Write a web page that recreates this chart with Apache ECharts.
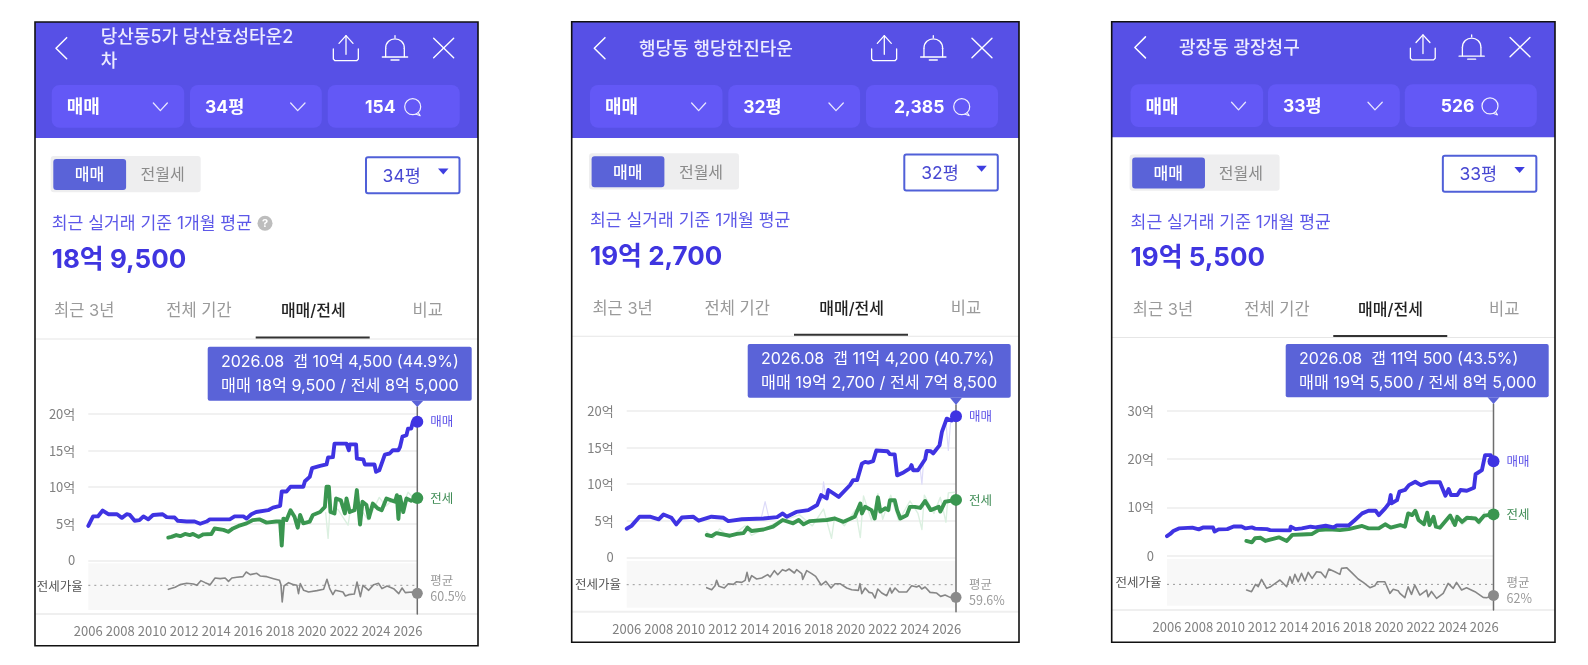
<!DOCTYPE html>
<html lang="ko">
<head>
<meta charset="utf-8">
<style>html,body{margin:0;padding:0;background:#fff}#c{width:1588px;height:665px}</style>
<script src="https://cdn.jsdelivr.net/npm/echarts@6/dist/echarts.min.js"></script>
</head>
<body>
<div id="c"></div>
<script>
// ---------- data: [year, 억] ----------
const tickYears = [2006,2008,2010,2012,2014,2016,2018,2020,2022,2024,2026];
const endYear = 2026.58;

const saleDangsan = [[2006,4.7],[2006.3,6],[2006.6,6],[2006.9,6.8],[2007.25,6.3],[2007.8,6.3],[2008.1,5.8],[2008.4,6.3],[2008.6,6.2],[2008.9,5.4],[2009.2,5.5],[2009.45,6],[2009.75,5.6],[2010.05,6.2],[2010.65,6.3],[2010.9,5.9],[2011.4,5.85],[2011.6,5.4],[2012.15,5.3],[2012.65,5.3],[2013,5],[2013.4,5.3],[2013.6,5.6],[2014.85,5.6],[2015.15,6],[2015.7,6],[2015.9,5.7],[2016.2,6.3],[2016.5,6.6],[2016.6,6.85],[2017.25,6.85],[2017.55,7.2],[2018,7.45],[2018.1,9.4],[2018.4,9.4],[2018.65,10.05],[2019.45,10.05],[2019.55,10.8],[2019.85,11.4],[2020,12.6],[2020.5,12.9],[2020.9,13.1],[2021,14.05],[2021.3,14.1],[2021.4,15.95],[2022.15,15.95],[2022.3,15.05],[2022.35,15.85],[2022.75,15.85],[2022.8,13.9],[2023.2,13.8],[2023.3,13.1],[2023.9,13.1],[2024,12.1],[2024.2,12.3],[2024.55,14.45],[2024.85,14.6],[2025.05,15.05],[2025.4,15.05],[2025.5,15.5],[2025.65,16.9],[2025.9,17.1],[2026,18],[2026.2,18],[2026.3,18.9],[2026.58,18.95]];
const rentDangsan = [[2011,3.1],[2011.2,3.2],[2011.5,3.45],[2011.75,3.3],[2012.05,3.6],[2012.35,3.45],[2012.55,3.6],[2012.9,3.2],[2013.2,3.55],[2013.7,3.6],[2013.9,4.35],[2014.45,4.15],[2014.75,3.9],[2015.05,4.35],[2015.4,4.7],[2015.9,5.05],[2016.3,5.5],[2016.7,5.6],[2017.15,5.15],[2017.75,5.3],[2018,5.3],[2018.1,2],[2018.2,5.7],[2018.4,5.5],[2018.65,6.85],[2018.9,5.95],[2019.1,4.45],[2019.25,6.2],[2019.45,5.05],[2019.85,5.3],[2020.05,6.2],[2020.5,6.6],[2020.8,7.3],[2020.9,10.05],[2021.05,10.05],[2021.15,6.6],[2021.4,6.4],[2021.5,8.45],[2021.8,8.2],[2022.05,6.4],[2022.15,8.45],[2022.35,6.6],[2022.65,6.85],[2022.8,9.6],[2022.85,9.35],[2023,4.9],[2023.15,8],[2023.4,7.55],[2023.55,5.8],[2023.8,7.75],[2024.1,7.1],[2024.35,6.85],[2024.65,8.45],[2024.95,8.2],[2025.2,8],[2025.3,8.9],[2025.4,5.65],[2025.5,8.7],[2025.7,6.6],[2025.9,8.45],[2026.2,8.15],[2026.58,8.5]];
const ratioDangsan = [[2011.01,52.7],[2011.43,56.6],[2011.74,61.8],[2012.16,64.4],[2012.58,63.1],[2012.79,60.5],[2013.04,69.6],[2013.31,65.7],[2013.62,61.8],[2013.93,74.8],[2014.25,73.5],[2014.56,74.8],[2014.77,68.3],[2014.98,74.8],[2015.29,76.1],[2015.67,77.4],[2015.88,86.5],[2016.13,81.3],[2016.54,83.9],[2016.75,78.7],[2017.17,77.4],[2017.59,73.5],[2017.96,70.3],[2018.05,61.8],[2018.13,28],[2018.24,59.2],[2018.53,65.7],[2018.84,61.8],[2019.05,60.5],[2019.15,44.3],[2019.26,63.8],[2019.47,50.8],[2019.78,47.5],[2020.3,50.1],[2020.72,52.7],[2020.93,72.2],[2021.1,54],[2021.3,42.3],[2021.45,50.8],[2021.93,47.5],[2022.08,39.7],[2022.29,42.3],[2022.64,43.6],[2022.81,67],[2023.02,38.4],[2023.18,60.5],[2023.54,50.8],[2023.85,61.8],[2024.16,64.4],[2024.37,54],[2024.69,59.2],[2025.1,54],[2025.42,44.3],[2025.63,55.3],[2025.83,46.2],[2026.25,47.5],[2026.58,44.9]];
const rentFaintDangsan = [[2020.85,6.5],[2021,3],[2021.1,6.5],[2021.6,7],[2022.25,4.8],[2022.4,7],[null,null],[2023.2,6.5],[2023.5,5.5],[2024.2,8.6],[2024.6,7.4],[2025.2,8.6],[2025.6,7],[2026,9.3],[2026.4,8.4]];
const saleFaintDangsan = [];

const saleHaengdang = [[2006,3.9],[2006.3,4.3],[2006.8,5.55],[2007.45,5.55],[2008,5.2],[2008.3,5.85],[2008.8,5.4],[2009.1,4.5],[2009.45,5.45],[2010.15,5.55],[2010.5,5],[2011.3,5.55],[2012.05,5.4],[2012.35,4.95],[2013.2,5.2],[2014.55,5.3],[2015.4,5.5],[2015.75,6],[2016,5.55],[2016.6,6.2],[2017.35,6.45],[2017.9,7.15],[2018.15,8.5],[2018.5,8.05],[2018.6,9.2],[2019.25,8.25],[2019.95,9.85],[2020.15,10.55],[2020.4,10.55],[2020.7,12.8],[2020.9,13.05],[2021.1,12.95],[2021.4,13.15],[2021.6,14.6],[2022.3,14.5],[2022.45,14.1],[2022.75,14.05],[2022.9,11.2],[2023.3,11.6],[2023.7,12.15],[2023.8,12.6],[2023.9,11.9],[2024.2,11.9],[2024.65,13.4],[2024.75,14.55],[2025,14.5],[2025.15,14.2],[2025.55,15.3],[2025.7,17.15],[2026,18.95],[2026.3,18.7],[2026.58,19.27]];
const rentHaengdang = [[2011,3.05],[2011.3,2.9],[2011.6,3.3],[2012.45,2.95],[2012.9,3.2],[2013.3,3.3],[2013.55,4.05],[2013.8,3.6],[2014.55,3.8],[2015.15,4.2],[2015.75,5.1],[2016.4,4.65],[2016.75,5.1],[2017.05,4.5],[2017.45,4.95],[2018.5,5.1],[2019,5.3],[2019.55,4.85],[2020.25,5.55],[2020.6,7.35],[2020.7,6],[2020.9,6.9],[2021.3,6.45],[2021.5,5.3],[2021.7,8.2],[2021.85,6.25],[2022.15,6.7],[2022.35,6.45],[2022.45,7.8],[2022.75,7.8],[2022.9,6.45],[2023.1,5.3],[2023.5,5.75],[2023.7,6.9],[2024,6.9],[2024.35,6.75],[2024.65,7.7],[2025,6.45],[2025.5,6.9],[2025.6,6.25],[2025.9,7.6],[2026.58,7.85]];
const ratioHaengdang = [[2011,55.1],[2011.31,52.1],[2011.52,58.1],[2011.62,66.1],[2011.77,57.1],[2012.1,54.6],[2012.35,61.1],[2012.67,60.1],[2012.87,64.1],[2013.19,63.1],[2013.4,66.1],[2013.52,78.1],[2013.65,64.6],[2013.81,73.1],[2014.12,68.1],[2014.44,69.6],[2014.81,74.6],[2014.96,71.1],[2015.23,80.6],[2015.44,74.6],[2015.73,82.1],[2015.94,80.1],[2016.15,83.1],[2016.48,77.1],[2016.62,82.1],[2016.94,76.1],[2017,67.6],[2017.25,80.6],[2017.56,76.1],[2017.81,72.1],[2018.15,59.1],[2018.44,64.6],[2018.77,54.6],[2019.02,61.1],[2019.33,61.1],[2019.75,54.6],[2020.06,52.1],[2020.48,51.1],[2020.58,61.1],[2020.69,46.1],[2020.9,54.6],[2021.15,48.1],[2021.35,47.1],[2021.52,39.6],[2021.69,53.1],[2021.94,47.1],[2022.25,43.1],[2022.46,54.6],[2022.56,47.1],[2022.77,54.6],[2023.02,48.6],[2023.5,48.6],[2023.81,58.1],[2024.12,56.1],[2024.27,58.1],[2024.44,53.1],[2024.65,56.1],[2024.96,48.1],[2025.37,47.1],[2025.62,42.1],[2025.9,44.1],[2026.21,40.6],[2026.58,40.7]];
const rentFaintHaengdang = [[2011,3.5],[2011.4,2.6],[2011.8,3.9],[2012.4,2.7],[2013.4,4.3],[2013.8,3],[2015.2,4.6],[2016.8,5.8],[2017.6,4.3],[2018.3,6.6],[2018.8,2.6],[2019,5.6],[2019.6,4.3],[2020.3,6.5],[2020.6,2.7],[2020.8,8.4],[2021.3,5],[2021.7,8.7],[2022,5.2],[2022.5,8.5],[2023,5],[2023.7,7.7],[2024.2,6],[2024.45,3.8],[2024.6,8.5],[2025.2,6],[2025.6,8.2],[2025.95,4.8],[2026.1,8.8],[2026.5,8.9]];
const saleFaintHaengdang = [[2014.4,5.3],[2014.65,7.6],[2014.9,5.3],[null,null],[2018.2,7.8],[2018.3,10.3],[2018.45,8.2],[null,null],[2024.35,11.9],[2024.45,10],[2024.55,13],[null,null],[2025.95,18.5],[2026.1,14.6],[2026.25,18.7]];

const saleGwangjang = [[2006,4.05],[2006.2,4.5],[2006.4,5.1],[2006.75,5.65],[2007.6,5.8],[2008,5.45],[2008.3,5.85],[2008.9,5.85],[2009,5],[2009.25,5.45],[2009.8,5.5],[2010.2,6.05],[2010.7,6.05],[2010.95,5.65],[2011.35,5.85],[2011.55,5.6],[2012.3,5.5],[2012.5,5.3],[2013.75,5.25],[2013.8,6],[2014.1,5.5],[2014.5,5.65],[2015.05,6],[2015.35,5.85],[2016,6.2],[2016.5,5.85],[2016.7,6.25],[2017.45,6.25],[2017.85,7.4],[2018.3,8.75],[2018.7,9.3],[2019.15,9.3],[2019.35,8.4],[2019.75,9.8],[2020,10.85],[2020.1,12.55],[2020.15,10.85],[2020.5,11.5],[2020.65,13.25],[2021,13.6],[2021.25,14.6],[2021.65,15.3],[2022,14.6],[2022.5,15.2],[2023.2,15.2],[2023.55,12.4],[2023.75,13.8],[2023.9,12.55],[2024.3,12.55],[2024.5,13.6],[2024.9,13.45],[2025.35,14.05],[2025.45,16.85],[2025.85,17.7],[2026.05,20.8],[2026.4,20.8],[2026.58,19.55]];
const rentGwangjang = [[2011,3.05],[2011.35,2.75],[2011.55,3.6],[2011.9,3.7],[2012.2,3.05],[2013.05,3.8],[2013.55,3.05],[2013.9,4.3],[2014.5,4.4],[2015.15,4.5],[2015.55,5.3],[2016.2,5.45],[2016.9,5.3],[2017.45,5.5],[2018.3,6.15],[2018.7,5.65],[2019.35,5.65],[2019.75,6.5],[2020.1,5.8],[2020.7,6.35],[2021,6],[2021.2,8.75],[2021.45,8.4],[2021.65,9.3],[2021.85,7.4],[2022.2,6.5],[2022.4,8.9],[2022.55,6.35],[2022.8,8.05],[2022.95,6],[2023.2,5.8],[2023.85,8.3],[2024.15,6.35],[2024.3,8.05],[2024.6,7],[2024.9,7.85],[2025.45,7.7],[2025.65,7],[2026,8.3],[2026.58,8.55]];
const ratioGwangjang = [[2011.02,52.5],[2011.33,49.7],[2011.58,62],[2011.75,58.1],[2011.96,70.4],[2012.28,55.3],[2012.49,57.5],[2012.91,65.4],[2013.12,69.3],[2013.54,58.1],[2013.75,74.9],[2013.89,63.7],[2014.06,78.8],[2014.27,66.5],[2014.48,80.5],[2014.69,67.6],[2014.9,82.2],[2015.15,72.1],[2015.43,83.3],[2015.7,82.2],[2015.99,73.2],[2016.2,87.8],[2016.58,83.3],[2016.9,78.8],[2017,88.9],[2017.32,90],[2017.63,82.2],[2018.05,71],[2018.37,65.4],[2018.79,56.4],[2019.1,59.8],[2019.27,66.5],[2019.73,66.5],[2020.05,46.9],[2020.26,53.7],[2020.57,51.4],[2020.68,46.9],[2020.99,39.6],[2021.2,58.1],[2021.41,45.2],[2021.62,60.9],[2021.94,44.1],[2022.36,52.5],[2022.46,41.3],[2022.67,50.1],[2022.99,38.5],[2023.41,46.9],[2023.72,63.7],[2024.04,55.3],[2024.25,65.4],[2024.57,52.5],[2024.88,56.4],[2025.41,49.7],[2025.93,40.2],[2026.14,39.6],[2026.58,43.5]];
const rentFaintGwangjang = [[2023.9,6.6],[2024.2,8.4],[2024.6,6.4],[2025.2,8.2],[2025.7,6.4],[2026,9]];
const saleFaintGwangjang = [];

// ---------- text of the three panels ----------
const titles = [["당산동5가 당산효성타운2","차"],["행당동 행당한진타운"],["광장동 광장청구"]];
const pyeong = ["34평","32평","33평"];
const counts = ["154","2,385","526"];
const bigPrices = ["18억 9,500","19억 2,700","19억 5,500"];
const tipLine1 = ["2026.08  갭 10억 4,500 (44.9%)","2026.08  갭 11억 4,200 (40.7%)","2026.08  갭 11억 500 (43.5%)"];
const tipLine2 = ["매매 18억 9,500 / 전세 8억 5,000","매매 19억 2,700 / 전세 7억 8,500","매매 19억 5,500 / 전세 8억 5,000"];
const avgLabels = ["60.5%","59.6%","62%"];
const avgRatios = [60.5,59.6,62];
const yMaxes = [20,20,30];
const yIntervals = [5,5,10];
const ratioRanges = [[12.4,103.4],[25.1,95.1],[26.2,104.6]];
const seriesData = [
  {sale:saleDangsan, rent:rentDangsan, ratio:ratioDangsan, rentF:rentFaintDangsan, saleF:saleFaintDangsan},
  {sale:saleHaengdang, rent:rentHaengdang, ratio:ratioHaengdang, rentF:rentFaintHaengdang, saleF:saleFaintHaengdang},
  {sale:saleGwangjang, rent:rentGwangjang, ratio:ratioGwangjang, rentF:rentFaintGwangjang, saleF:saleFaintGwangjang}
];

// ---------- layout ----------
const layouts = [
  {l:35,r:478,t:22,b:645.7,dx:0,k:0,dy:0,dyB:0,titleX:100.7,countX:365,bubbleX:412.7,
   gl:88.3,gr:417.3,gt:414,g0:560.3,st:563.3,sb:610,line:614,tipL:207.7,tipR:471.7,tipT:346.7,tipB:400.7,tip:407},
  {l:571.7,r:1019,t:21.7,b:642.3,dx:538.3,k:0,dy:0,dyB:-2.8,titleX:639,countX:894,bubbleX:961.7,
   gl:626.7,gr:956,gt:411,g0:557.3,st:561,sb:607.7,line:611.7,tipL:747.7,tipR:1010.7,tipT:344,tipB:397.7,tip:405},
  {l:1111.7,r:1555,t:21.7,b:642.3,dx:1079,k:-0.0065,dy:-0.8,dyB:-1.5,titleX:1179,countX:1440.7,bubbleX:1490,
   gl:1167,gr:1493.5,gt:410.7,g0:555.7,st:559,sb:605.7,line:610,tipL:1285.7,tipR:1548.7,tipT:344,tipB:397.3,tip:404}
];

const FONT = 'Inter,"Noto Sans CJK KR","Noto Sans",sans-serif';
const FONT_AX = '"Noto Sans CJK KR","Noto Sans",sans-serif';
const HEADER='#5750e6', DROP='#6358f6', SALE='#3f33e2', RENT='#3a9650', GREY='#8a8a8a', ACCENT='#5a63d8';

const graphic=[], grid=[], xAxis=[], yAxis=[], series=[];

function txt(x,y,text,size,fill,opt){
  opt=opt||{};
  const shift = opt.font ? 0 : 2;   // Inter's metrics sit higher than the CJK face's
  graphic.push({type:'text',z:opt.z||5,style:{x,y:y+shift,text,fill,font:(opt.weight||'400')+' '+size+'px '+(opt.font||FONT),
    textAlign:opt.align||'left',textVerticalAlign:'middle'}});
}
function rect(x,y,w,h,fill,opt){
  opt=opt||{};
  graphic.push({type:'rect',z:opt.z==null?1:opt.z,shape:{x,y,width:w,height:h,r:opt.r||0},
    style:{fill,stroke:opt.stroke||null,lineWidth:opt.lw||0}});
}
function stroke(points,color,lw){
  graphic.push({type:'polyline',z:3,shape:{points},style:{fill:null,stroke:color,lineWidth:lw,lineCap:'round',lineJoin:'round'}});
}
function poly(points,fill,z){
  graphic.push({type:'polygon',z:z||3,shape:{points},style:{fill}});
}

layouts.forEach((L,i)=>{
  const X=v=>v+L.dx+(v-35)*L.k, Y=v=>v+L.dy, B=v=>v+L.dyB;
  const Z=(x,y)=>[X(30+x/3),15+y/3+L.dy];
  // frame
  rect(L.l,L.t,L.r-L.l,L.b-L.t,'#fff',{z:-10});
  rect(L.l,L.t,L.r-L.l,138+L.dy-L.t,HEADER,{z:-9});
  rect(L.l,L.t,L.r-L.l,L.b-L.t,'none',{z:20,stroke:'#111',lw:1.6});
  // header icons
  stroke([Z(110,68),Z(78,100),Z(110,131)],'#fff',1.5);
  stroke([Z(910,102),Z(910,132),Z(915,137),Z(980,137),Z(985,132),Z(985,102)],'#fff',1.3);
  stroke([Z(948,118),Z(948,62)],'#fff',1.3);
  stroke([Z(927,85),Z(948,62),Z(969,85)],'#fff',1.3);
  const a=Z(1067,125),b=Z(1067,100),c1=Z(1067,62),c2=Z(1123,62),d=Z(1123,100),e=Z(1123,125);
  stroke([a,b],'#fff',1.3); stroke([d,e],'#fff',1.3);
  graphic.push({type:'bezierCurve',z:3,shape:{x1:b[0],y1:b[1],x2:d[0],y2:d[1],cpx1:c1[0],cpy1:c1[1],cpx2:c2[0],cpy2:c2[1]},style:{fill:null,stroke:'#fff',lineWidth:1.3}});
  stroke([Z(1057,126),Z(1133,126)],'#fff',1.3);
  stroke([Z(1083,135),Z(1107,135)],'#fff',1.3);
  stroke([Z(1095,62),Z(1095,68)],'#fff',1.3);
  stroke([Z(1211,70),Z(1271,128)],'#fff',1.4);
  stroke([Z(1271,70),Z(1211,128)],'#fff',1.4);
  // title
  titles[i].forEach((t,k)=>{
    const y = titles[i].length>1 ? 35.5+k*24 : 47.2+L.dy;
    txt(L.titleX,y,t,18,'#ecebff',{weight:'500'});
  });
  // drop-downs
  rect(X(51.7),Y(85),132.5,42.8,DROP,{r:8});
  rect(X(190),Y(85),131.8,42.8,DROP,{r:8});
  rect(X(327.7),Y(85),132,42.8,DROP,{r:8});
  txt(X(66.7),Y(106),'매매',18,'#fff',{weight:'700'});
  txt(X(205),Y(106),pyeong[i],17.5,'#fff',{weight:'700'});
  txt(L.countX,Y(106),counts[i],17.5,'#fff',{weight:'700'});
  stroke([Z(370,264),Z(391,287),Z(412,264)],'#e8e6ff',1.3);
  stroke([Z(782,264),Z(803,287),Z(825,264)],'#e8e6ff',1.3);
  const bx=L.bubbleX, by=Y(106.7);
  graphic.push({type:'circle',z:3,shape:{cx:bx,cy:by,r:8},style:{fill:null,stroke:'#f2f1ff',lineWidth:1.2}});
  stroke([[bx+5.5,by+5.8],[bx+7.5,by+9],[bx+3,by+7.4]],'#f2f1ff',1.1);
  // toggle
  rect(X(50.7),B(156),150,36.3,'#eeeeef',{r:3});
  rect(X(53.3),B(159),72.8,31,ACCENT,{r:3});
  txt(X(89.5),B(173.5),'매매',16,'#fff',{align:'center',weight:'500'});
  txt(X(162.7),B(173.5),'전월세',16,'#8b8b8b',{align:'center'});
  // pyeong select
  rect(X(366),B(157.3),93.5,36,'#fff',{stroke:'#5060d8',lw:2,r:2});
  txt(X(401.7),B(174.5),pyeong[i],17.5,'#4848d2',{align:'center'});
  poly([[X(438),B(168.5)],[X(448.5),B(168.5)],[X(443.3),B(174.5)]],'#3e3ee0',5);
  // price
  txt(X(51.7),B(222),'최근 실거래 기준 1개월 평균',17.2,'#5d58e8');
  if(i===0){
    graphic.push({type:'circle',z:3,shape:{cx:265,cy:223.3,r:7.5},style:{fill:'#bdbdbd'}});
    txt(265,221.3,'?',11,'#fff',{align:'center',weight:'700'});
  }
  txt(X(51.7),B(257.7),bigPrices[i],26,'#3f35e0',{weight:'700'});
  // tabs
  txt(X(84.3),B(309.5),'최근 3년',16.5,'#9a9a9a',{align:'center'});
  txt(X(199),B(309.5),'전체 기간',16.5,'#9a9a9a',{align:'center'});
  txt(X(313.3),B(309.5),'매매/전세',16,'#222',{align:'center',weight:'500'});
  txt(X(427.7),B(309.5),'비교',16.5,'#9a9a9a',{align:'center'});
  rect(L.l,B(338.5),L.r-L.l,1,'#e6e6e6');
  rect(X(255.7),B(336.5),114,2,'#333');
  // bottom line under the chart
  rect(L.l,L.line-1,L.r-L.l,2,'#efefef');
  // side label
  txt(L.gl-5.6,L.st+23,'전세가율',12.5,'#555',{align:'right',font:FONT_AX});
  // tooltip
  rect(L.tipL,L.tipT,L.tipR-L.tipL,L.tipB-L.tipT,ACCENT,{r:2,z:10});
  poly([[L.gr-6,L.tipB],[L.gr+6,L.tipB],[L.gr,L.tip]],ACCENT,10);
  txt(L.tipL+13.3,L.tipT+13,tipLine1[i],16,'#fff',{z:11});
  txt(L.tipL+13.3,L.tipT+37,tipLine2[i],16.2,'#fff',{z:11});

  // ---------- chart grids (main, ratio strip, guide) ----------
  const g0=grid.length;
  const W=1588,H=665;
  grid.push({left:L.gl,right:W-L.gr,top:L.gt,bottom:H-L.g0});
  grid.push({left:L.gl,right:W-L.gr,top:L.st,bottom:H-L.sb,show:true,backgroundColor:'#f8f8f8',borderWidth:0});
  grid.push({left:L.gl,right:W-L.gr,top:L.tip,bottom:H-L.line});
  const xBase={type:'value',min:tickYears[0],max:endYear,interval:2,splitLine:{show:false},axisLine:{show:false},axisTick:{show:false}};
  xAxis.push({...xBase,gridIndex:g0,axisLabel:{show:false}});
  xAxis.push({...xBase,gridIndex:g0+1,axisLabel:{show:true,showMaxLabel:false,margin:15,color:'#808080',fontSize:13,fontFamily:FONT_AX,
     formatter:v=>tickYears.includes(v)?String(v):''}});
  xAxis.push({...xBase,gridIndex:g0+2,axisLabel:{show:false}});
  yAxis.push({type:'value',gridIndex:g0,min:0,max:yMaxes[i],interval:yIntervals[i],axisLine:{show:false},axisTick:{show:false},
    splitLine:{show:true,lineStyle:{color:'#ececec',width:1.5}},
    axisLabel:{margin:13,color:'#808080',fontSize:13,fontFamily:FONT_AX,formatter:v=>v===0?'0':v+'억'}});
  yAxis.push({type:'value',gridIndex:g0+1,min:ratioRanges[i][0],max:ratioRanges[i][1],show:false,splitLine:{show:false}});
  yAxis.push({type:'value',gridIndex:g0+2,min:0,max:1,show:false,splitLine:{show:false}});

  const D=seriesData[i];
  const line=(name,data,ax,color,width,z,extra)=>series.push(Object.assign({name,type:'line',xAxisIndex:g0+ax,yAxisIndex:g0+ax,
    data,showSymbol:false,symbol:'none',silent:true,z,connectNulls:false,clip:false,animation:false,
    lineStyle:{color,width,cap:'round',join:'round'}},extra||{}));
  const dot=(name,point,ax,color,size,label,z)=>series.push({name,type:'scatter',xAxisIndex:g0+ax,yAxisIndex:g0+ax,
    data:[point],symbolSize:size,silent:true,z,animation:false,clip:false,itemStyle:{color,opacity:1},label});

  line('guide',[[endYear,0],[endYear,1]],2,'#6e6e6e',1.5,1);
  if(D.saleF.length) line('매매 개별',D.saleF,0,'#dddbf9',1.2,2);
  if(D.rentF.length) line('전세 개별',D.rentF,0,'#dcf0e1',1.4,2);
  line('평균',[[tickYears[0],avgRatios[i]],[endYear,avgRatios[i]]],1,'#9a9a9a',1,2,{lineStyle:{color:'#9a9a9a',width:1,type:[2,4]}});
  line('매매',D.sale,0,SALE,3.9,4);
  line('전세',D.rent,0,RENT,3.9,3);
  line('전세가율',D.ratio,1,'#868686',1.6,3);
  dot('매매 끝',D.sale[D.sale.length-1],0,SALE,12,{show:true,position:'right',distance:7,formatter:'매매',color:'#5d52e8',fontSize:12.5,fontFamily:FONT_AX},6);
  dot('전세 끝',D.rent[D.rent.length-1],0,RENT,12,{show:true,position:'right',distance:7,formatter:'전세',color:'#3f8c55',fontSize:12.5,fontFamily:FONT_AX},6);
  dot('전세가율 끝',D.ratio[D.ratio.length-1],1,GREY,11,{show:true,position:'right',distance:7.5,offset:[0,-5],formatter:'평균\n'+avgLabels[i],
     color:'#9a9a9a',fontSize:12.5,lineHeight:15.5,fontFamily:FONT_AX},6);
});

const chart=echarts.init(document.getElementById('c'),null,{renderer:'canvas',width:1588,height:665});
chart.setOption({animation:false,backgroundColor:'#fff',graphic:{elements:graphic},grid,xAxis,yAxis,series,tooltip:{show:false},legend:{show:false}});
</script>
</body>
</html>
